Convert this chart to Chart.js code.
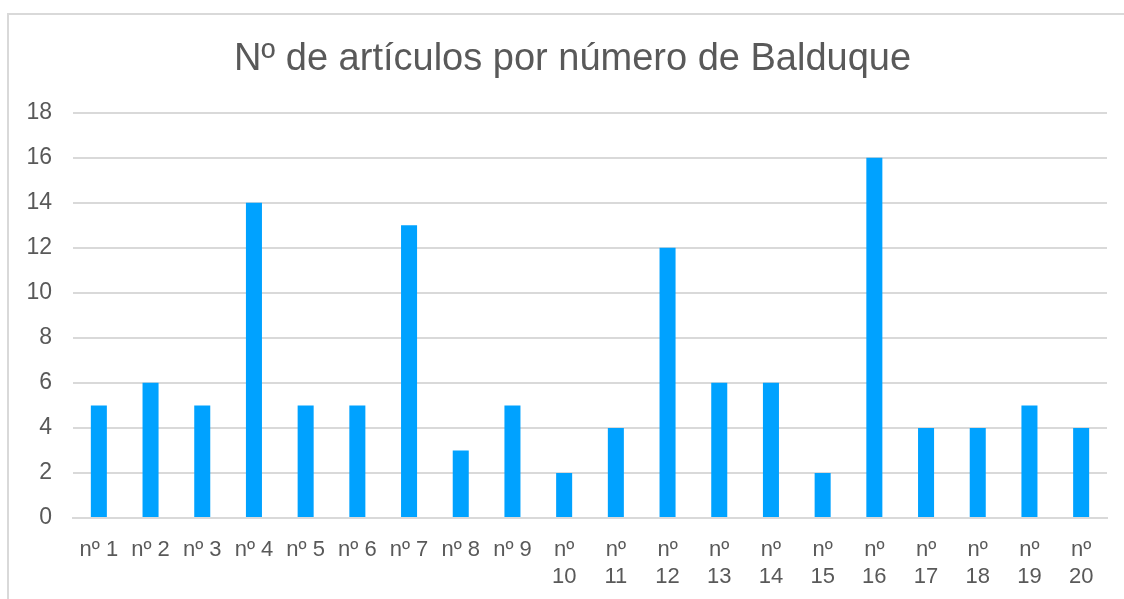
<!DOCTYPE html>
<html lang="es">
<head>
  <meta charset="UTF-8">
  <title>Nº de artículos por número de Balduque</title>
  <script src="https://cdn.jsdelivr.net/npm/chart.js"></script>
  <style>
    body {
      margin: 0;
      background: #ffffff;
      font-family: "Liberation Sans", Arial, sans-serif;
    }
    .frame {
      position: absolute;
      left: 7px;
      top: 13px;
      width: 1130px;
      height: 600px;
      border: 2px solid #d9d9d9;
    }
    .chart-box {
      position: absolute;
      left: 0;
      top: 0;
      width: 1124px;
      height: 599px;
    }
  </style>
</head>
<body>
  <div class="frame"></div>
  <div class="chart-box">
    <canvas id="barChart"></canvas>
  </div>

  <script>
    const categories = [
      'nº 1', 'nº 2', 'nº 3', 'nº 4', 'nº 5', 'nº 6', 'nº 7', 'nº 8', 'nº 9',
      ['nº', '10'], ['nº', '11'], ['nº', '12'], ['nº', '13'], ['nº', '14'],
      ['nº', '15'], ['nº', '16'], ['nº', '17'], ['nº', '18'], ['nº', '19'], ['nº', '20']
    ];
    const articulos = [5, 6, 5, 14, 5, 5, 13, 3, 5, 2, 4, 12, 6, 6, 2, 16, 4, 4, 5, 4];
    const yMax = 18;
    const yStep = 2;

    const textColor = '#595959';
    const gridColor = '#d9d9d9';
    const fontFamily = '"Liberation Sans", Arial, sans-serif';

    // the frame runs past the right edge, so push the title box over to centre it on the frame
    const titleShift = {
      id: 'titleShift',
      afterLayout(chart) {
        if (chart.titleBlock) chart.titleBlock.left = 38;
      }
    };

    new Chart(document.getElementById('barChart').getContext('2d'), {
      type: 'bar',
      data: {
        labels: categories,
        datasets: [{
          label: 'Nº de artículos',
          data: articulos,
          backgroundColor: '#00a2ff',
          barPercentage: 0.62,
          categoryPercentage: 0.5
        }]
      },
      options: {
        responsive: true,
        maintainAspectRatio: false,
        animation: false,
        layout: { padding: { left: 0, right: 17, top: 0, bottom: 0 } },
        plugins: {
          legend: { display: false },
          tooltip: { enabled: false },
          title: {
            display: true,
            text: 'Nº de artículos por número de Balduque',
            color: textColor,
            font: { family: fontFamily, size: 38, weight: 'normal', lineHeight: 1.2 },
            padding: { top: 37, bottom: 30 }
          }
        },
        scales: {
          x: {
            grid: { display: false, drawTicks: false },
            border: { display: true, color: gridColor, width: 2 },
            ticks: {
              color: textColor,
              autoSkip: false,
              maxRotation: 0,
              padding: 18,
              font: { family: fontFamily, size: 22, lineHeight: 1.25 }
            },
            afterFit: (scale) => { scale.height = 81; }
          },
          y: {
            min: 0,
            max: yMax,
            grid: { color: gridColor, lineWidth: 2, drawTicks: false },
            border: { display: false },
            ticks: {
              stepSize: yStep,
              color: textColor,
              padding: 21,
              font: { family: fontFamily, size: 23 }
            },
            afterFit: (scale) => { scale.width = 73; }
          }
        }
      },
      plugins: [titleShift]
    });
  </script>
</body>
</html>
